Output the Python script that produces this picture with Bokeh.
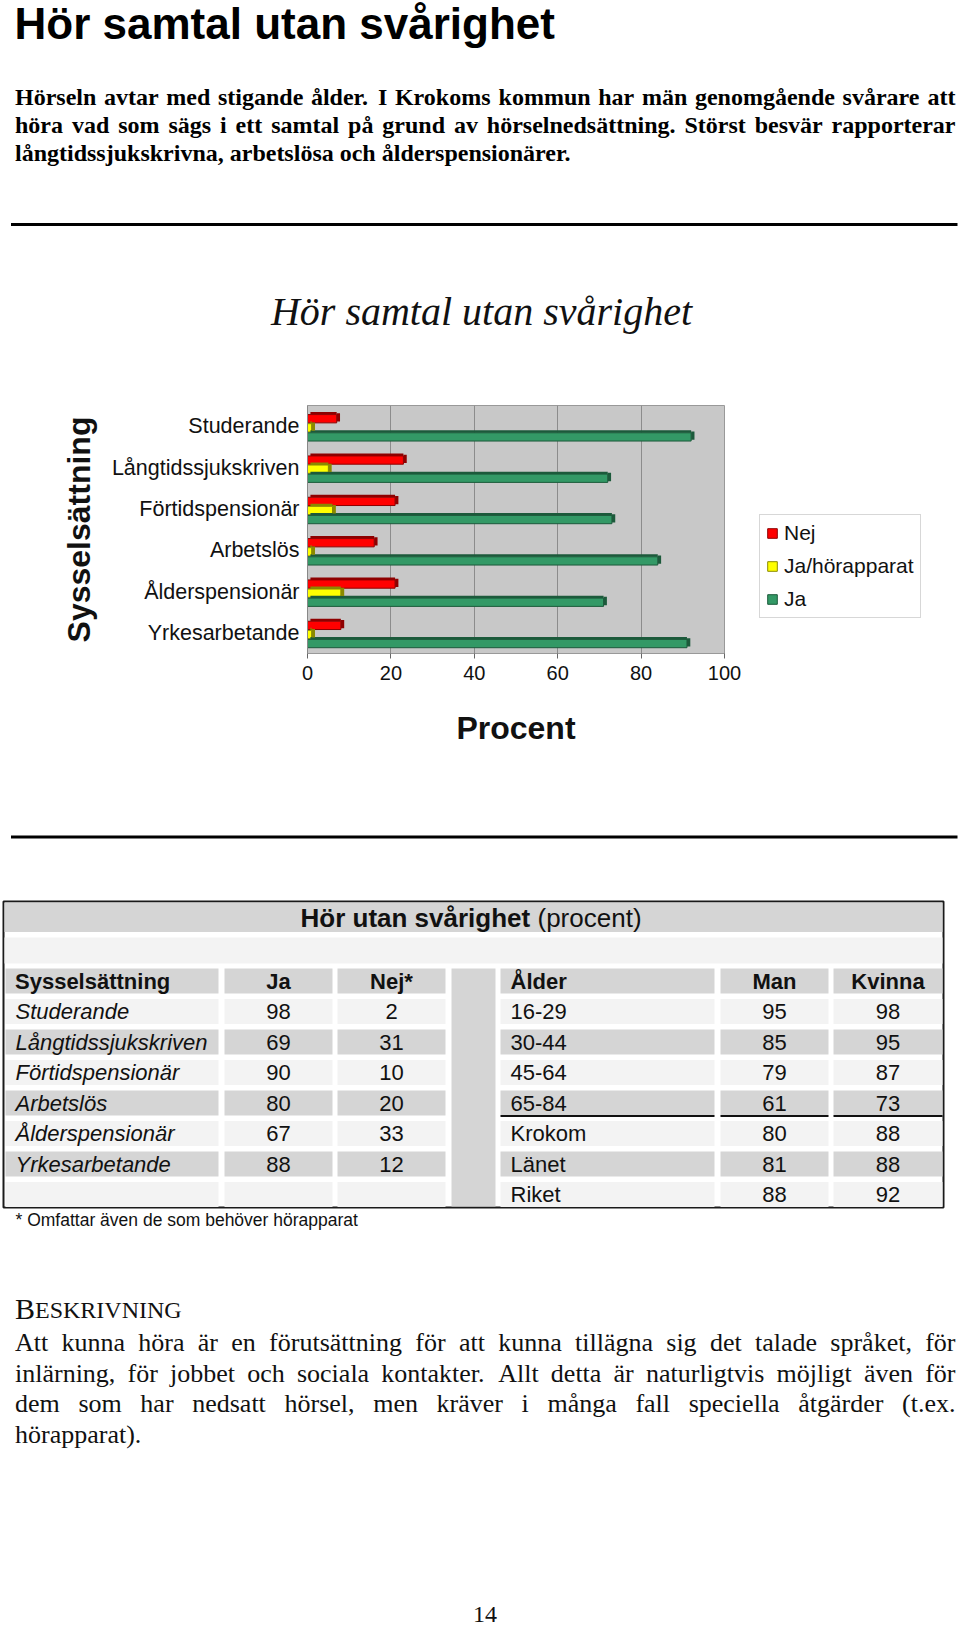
from bokeh.plotting import figure
from bokeh.models import Range1d, FactorRange, Legend, LegendItem, FixedTicker, ColumnDataSource
from bokeh.transform import dodge
from bokeh.embed import file_html
from bokeh.resources import INLINE
from bokeh.core.properties import value

# ---------------- data ----------------
page_title = "Hör samtal utan svårighet"
intro_lines = [
    "Hörseln avtar med stigande ålder. I Krokoms kommun har män genomgående svårare att",
    "höra vad som sägs i ett samtal på grund av hörselnedsättning. Störst besvär rapporterar",
    "långtidssjukskrivna, arbetslösa och ålderspensionärer.",
]
chart_title = "Hör samtal utan svårighet"
categories = ["Studerande", "Långtidssjukskriven", "Förtidspensionär",
              "Arbetslös", "Ålderspensionär", "Yrkesarbetande"]
series_names = ["Nej", "Ja/hörapparat", "Ja"]
chart_nej = [7, 23, 21, 16, 21, 8]
chart_hor = [1, 5, 6, 1, 8, 1]
chart_ja = [92, 72, 73, 84, 71, 91]
x_ticks = [0, 20, 40, 60, 80, 100]
x_label = "Procent"
y_label = "Sysselsättning"

table_title_bold = "Hör utan svårighet"
table_title_rest = "(procent)"
left_headers = ["Sysselsättning", "Ja", "Nej*"]
table_emp = ["Studerande", "Långtidssjukskriven", "Förtidspensionär",
             "Arbetslös", "Ålderspensionär", "Yrkesarbetande"]
table_ja = [98, 69, 90, 80, 67, 88]
table_nej = [2, 31, 10, 20, 33, 12]
right_headers = ["Ålder", "Man", "Kvinna"]
table_age = ["16-29", "30-44", "45-64", "65-84", "Krokom", "Länet", "Riket"]
table_man = [95, 85, 79, 61, 80, 81, 88]
table_kvinna = [98, 95, 87, 73, 88, 88, 92]
footnote = "* Omfattar även de som behöver hörapparat"

desc_head_first = "B"
desc_head_rest = "ESKRIVNING"
desc_lines = [
    "Att kunna höra är en förutsättning för att kunna tillägna sig det talade språket, för",
    "inlärning, för jobbet och sociala kontakter. Allt detta är naturligtvis möjligt även för",
    "dem som har nedsatt hörsel, men kräver i många fall speciella åtgärder (t.ex.",
    "hörapparat).",
]
page_number = "14"

# ---------------- styling ----------------
W = 960
SANS = "Liberation Sans"
SERIF = "Liberation Serif"
RED, RED_D = "#FF0000", "#8E0000"
YEL, YEL_D = "#FFFF00", "#8A8A00"
GRN, GRN_D = "#339966", "#1C5A3B"
DARK_CELL = "#D5D5D5"
LIGHT_CELL = "#F3F3F3"

# Times-compatible advance widths (1/1000 em), used only to justify paragraph lines
_REG = dict(zip("abcdefghijklmnopqrstuvwxyz", [444, 500, 444, 500, 444, 333, 500, 500, 278, 278,
                                               500, 278, 778, 500, 500, 500, 500, 333, 389, 278,
                                               500, 500, 722, 500, 500, 444]))
_REG.update({"å": 444, "ä": 444, "ö": 500, " ": 250, ".": 250, ",": 250, "(": 333, ")": 333,
             "A": 722, "H": 722, "I": 333, "K": 722, "S": 556})
_BOLD = dict(zip("abcdefghijklmnopqrstuvwxyz", [500, 556, 444, 556, 444, 333, 500, 556, 278, 333,
                                                556, 278, 833, 556, 500, 556, 556, 444, 389, 333,
                                                556, 500, 722, 500, 500, 444]))
_BOLD.update({"å": 500, "ä": 500, "ö": 500, " ": 250, ".": 250, ",": 250, "(": 333, ")": 333,
              "A": 722, "H": 778, "I": 389, "K": 778, "S": 556})


def page_fig(h):
    f = figure(width=W, height=h, x_range=Range1d(0, W), y_range=Range1d(h, 0),
               output_backend="svg", toolbar_location=None, min_border=0,
               x_axis_location=None, y_axis_location=None)
    f.grid.visible = False
    f.outline_line_color = None
    f.background_fill_color = "white"
    f.border_fill_color = "white"
    return f


def txt(f, xs, ys, texts, size, font=SANS, style="normal", align="left",
        baseline="middle", color="#111111"):
    f.text(x=xs, y=ys, text=texts, text_font=value(font),
           text_font_size=f"{size}px", text_font_style=style,
           text_align=align, text_baseline=baseline, text_color=color)


def paragraph(f, lines, x0, x1, y0, dy, size, style, color="#111111"):
    wt = _BOLD if style == "bold" else _REG
    space = wt[" "] / 1000 * size
    for li, line in enumerate(lines):
        words = line.split(" ")
        wpx = [sum(wt.get(ch, 500) for ch in w) / 1000 * size for w in words]
        last = li == len(lines) - 1
        if not last and len(words) > 1:
            gap = max(space, (x1 - x0 - sum(wpx)) / (len(words) - 1))
        else:
            gap = space
        xs, x = [], x0
        for w in wpx:
            xs.append(x)
            x += w + gap
        txt(f, xs, [y0 + dy * li] * len(words), words, size, font=SERIF, style=style, color=color)


# ---------------- header (page title, intro, chart title) ----------------
H1 = 380
top = page_fig(H1)
txt(top, [14], [23], [page_title], 44, style="bold", color="#000000")
paragraph(top, intro_lines, 14.5, 955, 96.5, 28, 24, "bold", color="#000000")
top.segment(x0=[10.5], y0=[224], x1=[957], y1=[224], line_width=3, line_color="#000000")
txt(top, [481], [311], [chart_title], 40, font=SERIF, style="italic", align="center")

# ---------------- chart ----------------
FRAME_L, FRAME_W, FRAME_T, FRAME_H = 307, 417, 25, 248
p = figure(frame_width=FRAME_W, frame_height=FRAME_H,
           y_range=FactorRange(factors=categories[::-1]),
           x_range=Range1d(0, 100), output_backend="svg", toolbar_location=None,
           min_border_left=FRAME_L, min_border_right=W - FRAME_L - FRAME_W,
           min_border_top=FRAME_T, min_border_bottom=790 - H1 - FRAME_T - FRAME_H)
p.background_fill_color = "#C8C8C8"
p.border_fill_color = "white"
p.outline_line_color = "#999999"

src = ColumnDataSource(dict(cat=categories, nej=chart_nej, hor=chart_hor, ja=chart_ja))
bar_h = 0.20
offs = [0.18, -0.04, -0.26]
cols = ["nej", "hor", "ja"]
fills = [RED, YEL, GRN]
darks = [RED_D, YEL_D, GRN_D]
main_r = []
for off, c, fc, dc in zip(offs, cols, fills, darks):
    # darker 3D top face
    p.hbar(y=dodge("cat", off + bar_h / 2 + 0.03, range=p.y_range), left=0.7,
           right=c, height=0.06, source=src, fill_color=dc, line_color=None)
    r = p.hbar(y=dodge("cat", off, range=p.y_range), left=0, right=c, height=bar_h,
               source=src, fill_color=fc, line_color=dc, line_width=1)
    main_r.append(r)

# darker 3D right side faces, computed from the same data
all_vals = chart_nej + chart_hor + chart_ja
side_src = ColumnDataSource(dict(
    yy=[(c, o + 0.03) for o in offs for c in categories],
    v0=all_vals,
    v1=[v + 0.8 for v in all_vals],
    col=[RED_D] * 6 + [YEL_D] * 6 + [GRN_D] * 6,
))
p.hbar(y="yy", left="v0", right="v1", height=bar_h, source=side_src,
       fill_color="col", line_color=None)

p.xaxis.ticker = FixedTicker(ticks=x_ticks)
p.xgrid.ticker = FixedTicker(ticks=x_ticks)
p.xgrid.grid_line_color = "#8C8C8C"
p.ygrid.grid_line_color = None
p.xaxis.axis_line_color = "#999999"
p.xaxis.major_tick_line_color = "#666666"
p.xaxis.major_tick_in = 0
p.xaxis.major_tick_out = 5
p.xaxis.minor_tick_line_color = None
p.xaxis.major_label_standoff = 7
p.xaxis.major_label_text_font = SANS
p.xaxis.major_label_text_font_size = "20px"
p.xaxis.major_label_text_color = "#111111"
p.xaxis.axis_label = x_label
p.xaxis.axis_label_text_font = SANS
p.xaxis.axis_label_text_font_style = "bold"
p.xaxis.axis_label_text_font_size = "32px"
p.xaxis.axis_label_text_color = "#111111"
p.xaxis.axis_label_standoff = 27

p.yaxis.axis_line_color = "#888888"
p.yaxis.major_tick_line_color = None
p.yaxis.minor_tick_line_color = None
p.yaxis.major_label_standoff = 2
p.yaxis.major_label_text_font = SANS
p.yaxis.major_label_text_font_size = "21.5px"
p.yaxis.major_label_text_color = "#111111"
p.yaxis.axis_label = y_label
p.yaxis.axis_label_text_font = SANS
p.yaxis.axis_label_text_font_style = "bold"
p.yaxis.axis_label_text_font_size = "32px"
p.yaxis.axis_label_text_color = "#111111"
p.yaxis.axis_label_standoff = 12

legend = Legend(items=[LegendItem(label=n, renderers=[r]) for n, r in zip(series_names, main_r)],
                location="bottom_left")
legend.label_text_font = SANS
legend.label_text_font_size = "21px"
legend.label_text_color = "#111111"
legend.glyph_width = 12
legend.glyph_height = 12
legend.label_standoff = 6
legend.spacing = 9
legend.padding = 6
legend.margin = 35
legend.border_line_color = "#B0B0B0"
legend.background_fill_color = "white"
p.add_layout(legend, "right")

# ---------------- bottom (table + text) ----------------
Y0 = 790
H3 = 1627 - Y0
bot = page_fig(H3)


def L(y):
    return y - Y0


bot.segment(x0=[10.5], y0=[L(836.5)], x1=[957], y1=[L(836.5)], line_width=3, line_color="#000000")

bot.quad(left=[3], right=[943], top=[L(901)], bottom=[L(1207)], fill_color="white",
         line_color="#1A1A1A", line_width=2)
bot.quad(left=[4], right=[942], top=[L(902)], bottom=[L(931.5)], fill_color=DARK_CELL, line_color=None)
bot.quad(left=[4], right=[942], top=[L(937)], bottom=[L(963)], fill_color=LIGHT_CELL, line_color=None)
bot.quad(left=[451], right=[495], top=[L(968)], bottom=[L(1206)], fill_color=DARK_CELL, line_color=None)

row_top0, row_pitch, row_h = 968, 30.5, 25
left_cols = [(5, 218), (224, 332), (337, 445)]
right_cols = [(500, 714), (720, 828), (833, 942)]
n_rows = 8
ql, qr, qt, qb, qc = [], [], [], [], []
for i in range(n_rows):
    t = row_top0 + i * row_pitch
    colr = DARK_CELL if i % 2 == 0 else LIGHT_CELL
    for a, b in left_cols + right_cols:
        ql.append(a); qr.append(b); qt.append(L(t)); qb.append(L(t + row_h)); qc.append(colr)
bot.quad(left=ql, right=qr, top=qt, bottom=qb, fill_color=qc, line_color=None)

line_y = L(row_top0 + 4 * row_pitch + row_h + 0.5)
bot.segment(x0=[a for a, b in right_cols], x1=[b for a, b in right_cols],
            y0=[line_y] * 3, y1=[line_y] * 3, line_width=2, line_color="#111111")

txt(bot, [300], [L(917)], [table_title_bold], 26, style="bold")
txt(bot, [537], [L(917)], [table_title_rest], 26)


def rc(i):
    return L(row_top0 + i * row_pitch + row_h / 2)


def cc(c):
    return (c[0] + c[1]) / 2


txt(bot, [14.5], [rc(0)], [left_headers[0]], 22, style="bold")
txt(bot, [cc(left_cols[1]), cc(left_cols[2])], [rc(0)] * 2, left_headers[1:], 22,
    style="bold", align="center")
txt(bot, [510], [rc(0)], [right_headers[0]], 22, style="bold")
txt(bot, [cc(right_cols[1]), cc(right_cols[2])], [rc(0)] * 2, right_headers[1:], 22,
    style="bold", align="center")

ys = [rc(i + 1) for i in range(len(table_emp))]
txt(bot, [15] * len(table_emp), ys, table_emp, 22, style="italic")
txt(bot, [cc(left_cols[1])] * len(table_ja), ys, [str(v) for v in table_ja], 22, align="center")
txt(bot, [cc(left_cols[2])] * len(table_nej), ys, [str(v) for v in table_nej], 22, align="center")

ys = [rc(i + 1) for i in range(len(table_age))]
txt(bot, [510] * len(table_age), ys, table_age, 22)
txt(bot, [cc(right_cols[1])] * len(table_man), ys, [str(v) for v in table_man], 22, align="center")
txt(bot, [cc(right_cols[2])] * len(table_kvinna), ys, [str(v) for v in table_kvinna], 22, align="center")

txt(bot, [15], [L(1219.5)], [footnote], 17.5)

txt(bot, [14.5], [L(1307.5)], [desc_head_first], 30, font=SERIF)
txt(bot, [34.5], [L(1309.5)], [desc_head_rest], 24, font=SERIF)
paragraph(bot, desc_lines, 14.5, 955, L(1342), 30.7, 26, "normal")
txt(bot, [484.6], [L(1614)], [page_number], 24, font=SERIF, align="center")

open("out.html", "w").write(file_html([top, p, bot], INLINE))
